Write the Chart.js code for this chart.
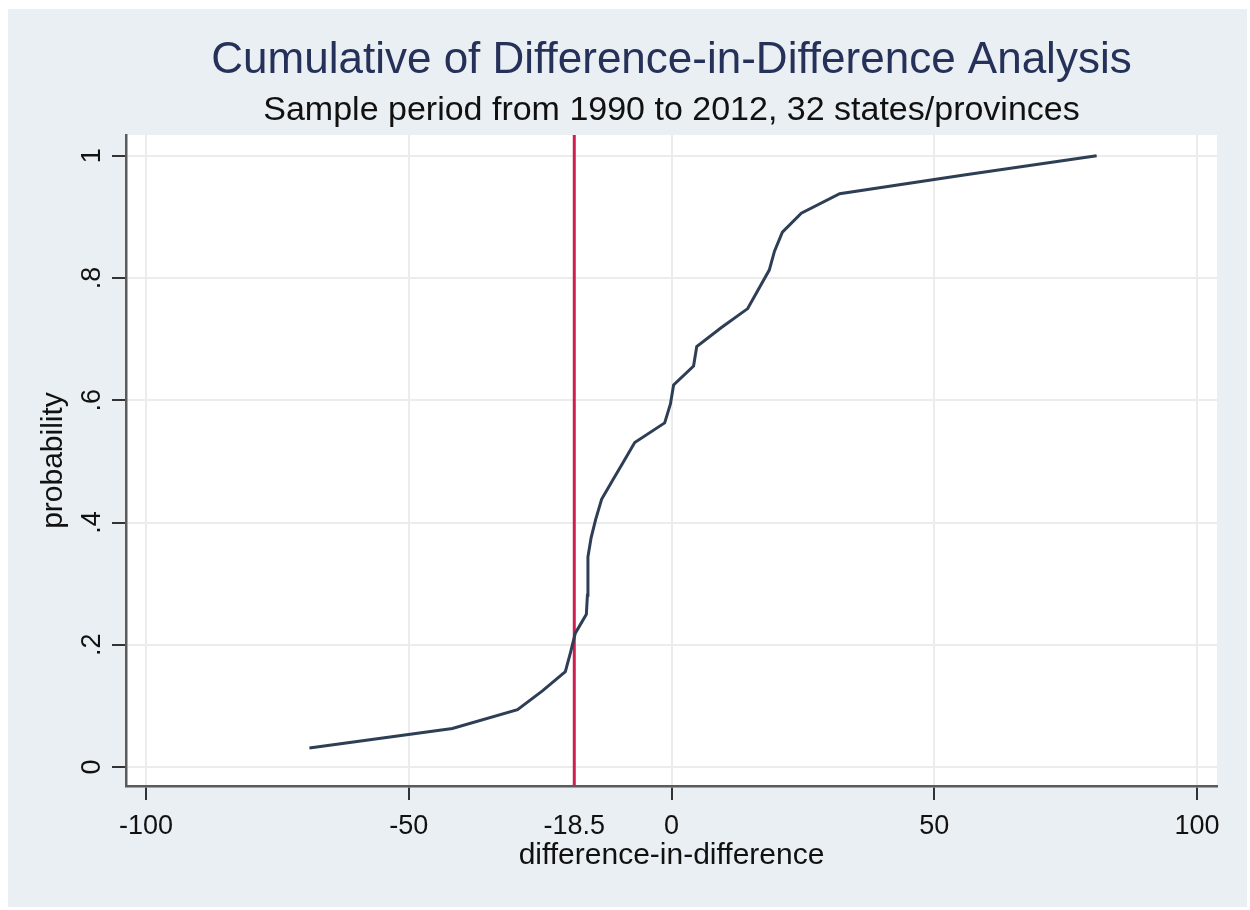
<!DOCTYPE html>
<html>
<head>
<meta charset="utf-8">
<script src="https://cdn.jsdelivr.net/npm/chart.js@4.4.1/dist/chart.umd.min.js"></script>
<style>
  html, body { margin: 0; padding: 0; background: #fff; }
</style>
</head>
<body>
<canvas id="cdf" width="1250" height="910"></canvas>
<script>
// ==========================================
// DATA
// ==========================================
const diffValues = [-68.9, -41.7, -29.3, -24.5, -20.2, -19.2, -18.3, -16.2,
                    -16.0, -15.9, -15.9, -15.3, -14.4, -13.3, -11.2, -9.1,
                    -7.0, -1.3, -0.2, 0.4, 4.2, 4.8, 9.5, 14.5,
                    16.5, 18.6, 19.6, 21.1, 24.7, 32.0, 56.0, 80.9];
const probValues = [0.031, 0.063, 0.094, 0.125, 0.156, 0.188, 0.219, 0.25,
                    0.281, 0.313, 0.344, 0.375, 0.406, 0.438, 0.469, 0.5,
                    0.531, 0.563, 0.594, 0.625, 0.656, 0.688, 0.719, 0.75,
                    0.781, 0.813, 0.844, 0.875, 0.906, 0.938, 0.969, 1];
const cutoffValue = -18.5;
const xTickValues = [-100, -50, -18.5, 0, 50, 100];
const xTickLabels = ['-100', '-50', '-18.5', '0', '50', '100'];
const yTickValues = [0, 0.2, 0.4, 0.6, 0.8, 1];
const yTickLabels = ['0', '.2', '.4', '.6', '.8', '1'];

const X_MIN = -103.8, X_MAX = 103.8;
const Y_MIN = -0.031, Y_MAX = 1.034;
const FONT = '"Liberation Sans", Arial, Helvetica, sans-serif';

// graph region + white plot region
const fundoPlugin = {
    id: 'fundo',
    beforeDraw(chart) {
        let ctx = chart.ctx, a = chart.chartArea;
        ctx.save();
        ctx.fillStyle = '#ffffff';
        ctx.fillRect(0, 0, chart.width, chart.height);
        ctx.fillStyle = '#e9eff2';
        ctx.fillRect(8, 9, 1239, 898);
        ctx.fillStyle = '#ffffff';
        ctx.fillRect(a.left, a.top, a.right - a.left, a.bottom - a.top);
        ctx.restore();
    }
};

// y tick labels are rotated in the original, Chart.js does not rotate y ticks
const yLabelsPlugin = {
    id: 'yLabels',
    afterDraw(chart) {
        let ctx = chart.ctx, y = chart.scales.y;
        ctx.save();
        ctx.fillStyle = '#111111';
        ctx.font = '27px ' + FONT;
        ctx.textAlign = 'center';
        ctx.textBaseline = 'alphabetic';
        yTickValues.forEach((v, i) => {
            ctx.save();
            ctx.translate(y.right - 26, y.getPixelForValue(v));
            ctx.rotate(-Math.PI / 2);
            ctx.fillText(yTickLabels[i], 0, 0);
            ctx.restore();
        });
        ctx.restore();
    }
};

const semCorte = (c, cor) => (c.tick && c.tick.value === cutoffValue) ? 'rgba(0,0,0,0)' : cor;

new Chart(document.getElementById('cdf'), {
    type: 'line',
    data: {
        datasets: [{
            data: diffValues.map((x, i) => ({ x: x, y: probValues[i] })),
            borderColor: '#2e3e54',
            borderWidth: 3,
            pointRadius: 0,
            tension: 0
        }, {
            data: [{ x: cutoffValue, y: Y_MIN }, { x: cutoffValue, y: Y_MAX }],
            borderColor: '#cf1f4f',
            borderWidth: 3,
            pointRadius: 0
        }]
    },
    options: {
        responsive: false,
        devicePixelRatio: 1,
        animation: false,
        layout: { padding: { left: 0, top: 0, right: 33, bottom: 0 } },
        plugins: {
            legend: { display: false },
            tooltip: { enabled: false },
            title: {
                display: true,
                text: 'Cumulative of Difference-in-Difference Analysis',
                color: '#263159',
                font: { family: FONT, size: 44, weight: 'normal' },
                padding: { top: 34, bottom: 0 },
                fullSize: false
            },
            subtitle: {
                display: true,
                text: 'Sample period from 1990 to 2012, 32 states/provinces',
                color: '#111111',
                font: { family: FONT, size: 34, weight: 'normal' },
                padding: { top: 3, bottom: 4.4 },
                fullSize: false
            }
        },
        scales: {
            x: {
                type: 'linear',
                min: X_MIN,
                max: X_MAX,
                afterBuildTicks: s => { s.ticks = xTickValues.map(v => ({ value: v })); },
                afterFit: s => { s.height = 124; },
                ticks: {
                    callback: (v, i) => xTickLabels[i],
                    color: '#111111',
                    font: { family: FONT, size: 27 },
                    padding: 10,
                    maxRotation: 0,
                    autoSkip: false
                },
                grid: {
                    color: c => semCorte(c, '#ececec'),
                    lineWidth: 2,
                    tickLength: 14,
                    tickColor: c => semCorte(c, '#333333'),
                    tickWidth: 2
                },
                border: { color: '#5b5b5b', width: 2.5 },
                title: {
                    display: true,
                    text: 'difference-in-difference',
                    color: '#111111',
                    font: { family: FONT, size: 30 },
                    padding: { top: 0, bottom: 36 }
                }
            },
            y: {
                type: 'linear',
                min: Y_MIN,
                max: Y_MAX,
                afterBuildTicks: s => { s.ticks = yTickValues.map(v => ({ value: v })); },
                afterFit: s => { s.width = 126; },
                ticks: { display: false },
                grid: {
                    color: '#ececec',
                    lineWidth: 2,
                    tickLength: 14,
                    tickColor: '#333333',
                    tickWidth: 2
                },
                border: { color: '#5b5b5b', width: 2.5 },
                title: {
                    display: true,
                    text: 'probability',
                    color: '#111111',
                    font: { family: FONT, size: 30 },
                    padding: { top: 36, bottom: 0 }
                }
            }
        }
    },
    plugins: [fundoPlugin, yLabelsPlugin]
});
</script>
</body>
</html>
